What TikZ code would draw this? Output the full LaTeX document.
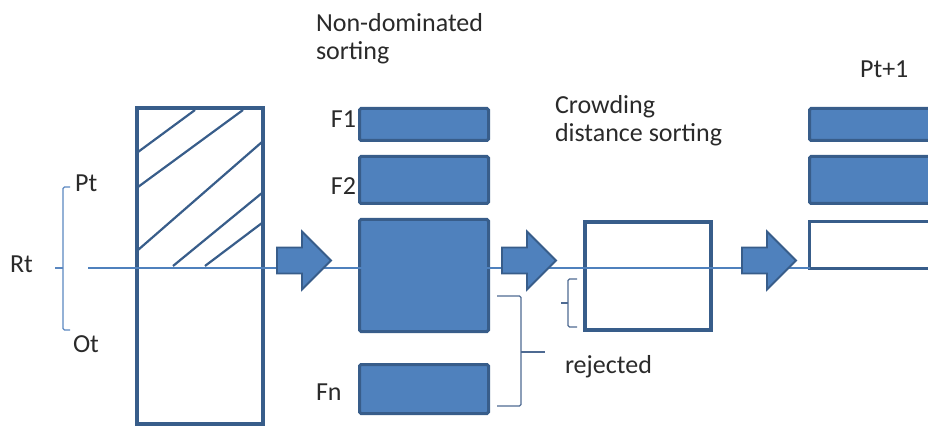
\documentclass[tikz,border=0pt]{standalone}
\usepackage{fontspec}
\setmainfont{Carlito}
\usetikzlibrary{positioning}
\definecolor{boxfill}{HTML}{4F81BD}
\definecolor{boxedge}{HTML}{385D8A}
\definecolor{braceblue}{HTML}{5A87C0}
\definecolor{bracegray}{HTML}{4E6A92}
\definecolor{labelgray}{HTML}{2A2A2A}
\tikzset{
    every node/.style={inner sep=0pt, outer sep=0pt, text=labelgray, font=\fontsize{26}{28}\selectfont}, % plain text labels
    front/.style={draw=boxedge, fill=boxfill, line width=3pt, rounded corners=1.5pt, minimum width=129pt}, % one front
    hollow/.style={draw=boxedge, fill=white, line width=4pt}, % empty population box
    hatch/.style={boxedge, line width=2.2pt},
    axisline/.style={boxfill, line width=1.8pt},
    brace/.style={line width=1.3pt, rounded corners=1.5pt},
    fatarrow/.pic={
        \filldraw[fill=boxfill, draw=boxedge, line width=1.8pt, line join=miter]
            (0,-13) -- (25,-13) -- (25,-29) -- (54,0) -- (25,29) -- (25,13) -- (0,13) -- cycle;
    }
}

\begin{document}
\begin{tikzpicture}[x=1pt, y=-1pt]
    \clip (0,0) rectangle (928,427);

    % Rt = Pt + Ot
    \node[hollow, minimum width=126pt, minimum height=316pt] (rt) at (200,266) {};
    \foreach \xa/\ya/\xb/\yb in {138/152/195/110, 138/187/243/110, 138/250/262/142, 173/266/262/193, 205/266/262/223}
        \draw[hatch] (\xa,\ya) -- (\xb,\yb);

    % non-dominated fronts
    \node[front, minimum height=32pt] (f1) at (424,124.5) {};
    \node[front, minimum height=47pt] (f2) at (424,180) {};
    \node[front, minimum height=112pt] (fmid) at (424,275.5) {};
    \node[front, minimum height=49pt] (fn) at (424,389) {};

    % crowding distance
    \node[hollow, minimum width=126pt, minimum height=108pt] (crowd) at (648,276) {};

    % Pt+1
    \node[front, anchor=west, minimum width=160pt, minimum height=32pt] (p1) at (809.5,124.5) {};
    \node[front, anchor=west, minimum width=160pt, minimum height=47pt] (p2) at (809.5,180) {};
    \node[hollow, line width=3pt, anchor=west, minimum width=160pt, minimum height=47pt] (p3) at (809.5,245) {};

    \coordinate (axis) at (88,268);
    \draw[axisline] (axis) -- (axis -| p3.west);

    \pic at (277,260.5) {fatarrow};
    \pic at (502,260.5) {fatarrow};
    \pic at (742,260.5) {fatarrow};

    % braces
    \draw[brace, braceblue] (70,187) -- (63,187) -- (63,330) -- (70,330);
    \draw[brace, braceblue] (63,268) -- (55,268);
    \draw[brace, bracegray] (497,296) -- (521,296) -- (521,406) -- (497,406);
    \draw[brace, bracegray] (521,352) -- (545,352);
    \draw[brace, bracegray] (577,279) -- (568,279) -- (568,327) -- (577,327);
    \draw[brace, bracegray] (568,303) -- (561,303);

    % labels
    \node[anchor=base west] (rtlabel) at (10,273) {Rt};
    \node[anchor=base west] (ptlabel) at (75,192) {Pt};
    \node[anchor=base west] (otlabel) at (73,352) {Ot};
    \node[anchor=base west, align=left] (ndtitle) at (316,60) {Non-dominated\\sorting};
    \node[anchor=base east] (f1label) at (356,128) {F1};
    \node[anchor=base east] (f2label) at (356,195) {F2};
    \node[anchor=base west] (fnlabel) at (316,400) {Fn};
    \node[anchor=base west, align=left] (cdtitle) at (555,142) {Crowding\\distance sorting};
    \node[anchor=base west] (rejlabel) at (565,373) {rejected};
    \node[anchor=base west] (nextlabel) at (860,78) {Pt+1};
\end{tikzpicture}
\end{document}
